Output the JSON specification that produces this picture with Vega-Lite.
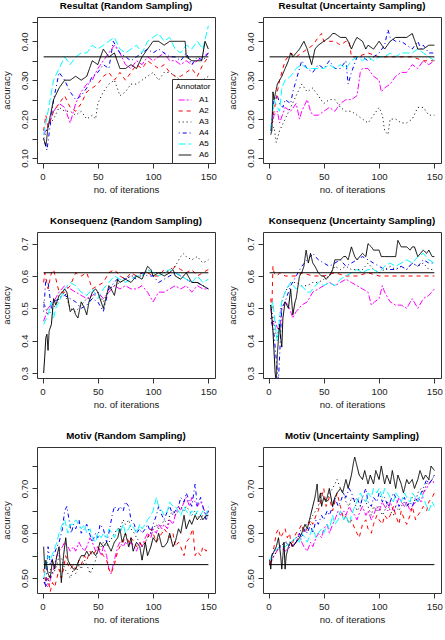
{
"$schema":"https://vega.github.io/schema/vega-lite/v6.json",
"padding":{"left":0,"top":0,"right":0,"bottom":0},
"background":"white",
"config":{
"font":"Liberation Sans",
"view":{"stroke":"#333","strokeWidth":1},
"axis":{"domain":false,"grid":false,"tickSize":5,"tickColor":"#333","labelFontSize":9.6,"titleFontSize":9.6,"titleFontWeight":"normal","labelColor":"#222","titleColor":"#222","labelFont":"Liberation Sans","titleFont":"Liberation Sans","labelOverlap":false,"labelFlush":false,"tickCount":20},
"axisX":{"labelPadding":3,"titlePadding":4,"labelOverlap":false},
"axisY":{"labelAngle":270,"labelAlign":"center","labelBaseline":"alphabetic","labelPadding":5,"titlePadding":8,"labelOverlap":false},
"title":{"fontSize":9.7,"fontWeight":"bold","font":"Liberation Sans","offset":6,"anchor":"middle","color":"black"},
"line":{"strokeWidth":1}
},
"datasets":{
"rr":[
{"s":"A1","x":1,"y":0.16},{"s":"A1","x":5,"y":0.18},{"s":"A1","x":10,"y":0.22},{"s":"A1","x":15,"y":0.24},{"s":"A1","x":20,"y":0.23},{"s":"A1","x":25,"y":0.19},{"s":"A1","x":30,"y":0.24},{"s":"A1","x":35,"y":0.27},{"s":"A1","x":40,"y":0.29},{"s":"A1","x":45,"y":0.30},{"s":"A1","x":50,"y":0.33},{"s":"A1","x":55,"y":0.35},{"s":"A1","x":60,"y":0.37},{"s":"A1","x":65,"y":0.39},{"s":"A1","x":70,"y":0.37},{"s":"A1","x":75,"y":0.34},{"s":"A1","x":80,"y":0.33},{"s":"A1","x":85,"y":0.35},{"s":"A1","x":90,"y":0.34},{"s":"A1","x":95,"y":0.36},{"s":"A1","x":100,"y":0.35},{"s":"A1","x":105,"y":0.36},{"s":"A1","x":110,"y":0.37},{"s":"A1","x":115,"y":0.35},{"s":"A1","x":120,"y":0.35},{"s":"A1","x":125,"y":0.34},{"s":"A1","x":130,"y":0.35},{"s":"A1","x":135,"y":0.34},{"s":"A1","x":140,"y":0.35},{"s":"A1","x":145,"y":0.36},{"s":"A1","x":150,"y":0.37},
{"s":"A2","x":1,"y":0.17},{"s":"A2","x":3,"y":0.21},{"s":"A2","x":5,"y":0.18},{"s":"A2","x":10,"y":0.22},{"s":"A2","x":15,"y":0.24},{"s":"A2","x":20,"y":0.26},{"s":"A2","x":25,"y":0.23},{"s":"A2","x":30,"y":0.22},{"s":"A2","x":35,"y":0.24},{"s":"A2","x":40,"y":0.27},{"s":"A2","x":45,"y":0.28},{"s":"A2","x":50,"y":0.29},{"s":"A2","x":55,"y":0.31},{"s":"A2","x":60,"y":0.32},{"s":"A2","x":65,"y":0.30},{"s":"A2","x":70,"y":0.32},{"s":"A2","x":75,"y":0.30},{"s":"A2","x":80,"y":0.32},{"s":"A2","x":85,"y":0.34},{"s":"A2","x":90,"y":0.33},{"s":"A2","x":95,"y":0.35},{"s":"A2","x":100,"y":0.34},{"s":"A2","x":105,"y":0.33},{"s":"A2","x":110,"y":0.34},{"s":"A2","x":115,"y":0.32},{"s":"A2","x":120,"y":0.31},{"s":"A2","x":125,"y":0.31},{"s":"A2","x":130,"y":0.32},{"s":"A2","x":135,"y":0.33},{"s":"A2","x":140,"y":0.31},{"s":"A2","x":145,"y":0.34},{"s":"A2","x":150,"y":0.36},
{"s":"A3","x":1,"y":0.15},{"s":"A3","x":5,"y":0.18},{"s":"A3","x":10,"y":0.20},{"s":"A3","x":15,"y":0.23},{"s":"A3","x":20,"y":0.22},{"s":"A3","x":25,"y":0.22},{"s":"A3","x":30,"y":0.21},{"s":"A3","x":35,"y":0.22},{"s":"A3","x":40,"y":0.20},{"s":"A3","x":45,"y":0.21},{"s":"A3","x":48,"y":0.20},{"s":"A3","x":50,"y":0.24},{"s":"A3","x":55,"y":0.27},{"s":"A3","x":60,"y":0.29},{"s":"A3","x":65,"y":0.30},{"s":"A3","x":70,"y":0.26},{"s":"A3","x":75,"y":0.27},{"s":"A3","x":80,"y":0.29},{"s":"A3","x":85,"y":0.29},{"s":"A3","x":90,"y":0.30},{"s":"A3","x":95,"y":0.31},{"s":"A3","x":100,"y":0.32},{"s":"A3","x":105,"y":0.30},{"s":"A3","x":110,"y":0.32},{"s":"A3","x":115,"y":0.32},{"s":"A3","x":120,"y":0.31},{"s":"A3","x":125,"y":0.30},{"s":"A3","x":130,"y":0.29},{"s":"A3","x":135,"y":0.29},{"s":"A3","x":140,"y":0.27},{"s":"A3","x":145,"y":0.30},{"s":"A3","x":150,"y":0.31},
{"s":"A4","x":1,"y":0.15},{"s":"A4","x":4,"y":0.12},{"s":"A4","x":10,"y":0.25},{"s":"A4","x":15,"y":0.32},{"s":"A4","x":20,"y":0.30},{"s":"A4","x":25,"y":0.27},{"s":"A4","x":30,"y":0.25},{"s":"A4","x":35,"y":0.26},{"s":"A4","x":40,"y":0.28},{"s":"A4","x":45,"y":0.31},{"s":"A4","x":50,"y":0.32},{"s":"A4","x":55,"y":0.34},{"s":"A4","x":60,"y":0.33},{"s":"A4","x":64,"y":0.40},{"s":"A4","x":70,"y":0.37},{"s":"A4","x":75,"y":0.36},{"s":"A4","x":80,"y":0.35},{"s":"A4","x":85,"y":0.36},{"s":"A4","x":90,"y":0.37},{"s":"A4","x":95,"y":0.38},{"s":"A4","x":100,"y":0.37},{"s":"A4","x":105,"y":0.38},{"s":"A4","x":110,"y":0.37},{"s":"A4","x":115,"y":0.36},{"s":"A4","x":120,"y":0.36},{"s":"A4","x":125,"y":0.35},{"s":"A4","x":130,"y":0.37},{"s":"A4","x":135,"y":0.34},{"s":"A4","x":140,"y":0.36},{"s":"A4","x":145,"y":0.35},{"s":"A4","x":150,"y":0.37},
{"s":"A5","x":1,"y":0.16},{"s":"A5","x":5,"y":0.22},{"s":"A5","x":10,"y":0.30},{"s":"A5","x":15,"y":0.33},{"s":"A5","x":20,"y":0.36},{"s":"A5","x":25,"y":0.34},{"s":"A5","x":30,"y":0.36},{"s":"A5","x":35,"y":0.37},{"s":"A5","x":40,"y":0.37},{"s":"A5","x":45,"y":0.39},{"s":"A5","x":50,"y":0.38},{"s":"A5","x":55,"y":0.39},{"s":"A5","x":60,"y":0.40},{"s":"A5","x":65,"y":0.41},{"s":"A5","x":70,"y":0.38},{"s":"A5","x":75,"y":0.37},{"s":"A5","x":80,"y":0.38},{"s":"A5","x":85,"y":0.39},{"s":"A5","x":90,"y":0.37},{"s":"A5","x":95,"y":0.40},{"s":"A5","x":100,"y":0.41},{"s":"A5","x":105,"y":0.42},{"s":"A5","x":110,"y":0.40},{"s":"A5","x":115,"y":0.41},{"s":"A5","x":120,"y":0.38},{"s":"A5","x":125,"y":0.37},{"s":"A5","x":130,"y":0.39},{"s":"A5","x":135,"y":0.38},{"s":"A5","x":140,"y":0.40},{"s":"A5","x":145,"y":0.38},{"s":"A5","x":150,"y":0.44},
{"s":"A6","x":1,"y":0.15},{"s":"A6","x":3,"y":0.13},{"s":"A6","x":5,"y":0.18},{"s":"A6","x":10,"y":0.25},{"s":"A6","x":15,"y":0.28},{"s":"A6","x":20,"y":0.30},{"s":"A6","x":25,"y":0.30},{"s":"A6","x":30,"y":0.31},{"s":"A6","x":35,"y":0.30},{"s":"A6","x":40,"y":0.31},{"s":"A6","x":45,"y":0.35},{"s":"A6","x":50,"y":0.34},{"s":"A6","x":55,"y":0.38},{"s":"A6","x":60,"y":0.36},{"s":"A6","x":65,"y":0.37},{"s":"A6","x":70,"y":0.33},{"s":"A6","x":75,"y":0.33},{"s":"A6","x":80,"y":0.34},{"s":"A6","x":85,"y":0.33},{"s":"A6","x":90,"y":0.36},{"s":"A6","x":95,"y":0.38},{"s":"A6","x":100,"y":0.40},{"s":"A6","x":105,"y":0.40},{"s":"A6","x":110,"y":0.39},{"s":"A6","x":115,"y":0.40},{"s":"A6","x":120,"y":0.40},{"s":"A6","x":125,"y":0.40},{"s":"A6","x":129,"y":0.40},{"s":"A6","x":130,"y":0.36},{"s":"A6","x":135,"y":0.35},{"s":"A6","x":140,"y":0.35},{"s":"A6","x":144,"y":0.35},{"s":"A6","x":147,"y":0.40},{"s":"A6","x":150,"y":0.38}
],
"ru":[
{"s":"A1","x":2,"y":0.17},{"s":"A1","x":5,"y":0.21},{"s":"A1","x":8,"y":0.22},{"s":"A1","x":10,"y":0.19},{"s":"A1","x":15,"y":0.23},{"s":"A1","x":20,"y":0.22},{"s":"A1","x":25,"y":0.24},{"s":"A1","x":28,"y":0.20},{"s":"A1","x":30,"y":0.22},{"s":"A1","x":35,"y":0.25},{"s":"A1","x":38,"y":0.22},{"s":"A1","x":40,"y":0.21},{"s":"A1","x":45,"y":0.21},{"s":"A1","x":50,"y":0.22},{"s":"A1","x":55,"y":0.23},{"s":"A1","x":60,"y":0.22},{"s":"A1","x":65,"y":0.24},{"s":"A1","x":70,"y":0.25},{"s":"A1","x":75,"y":0.25},{"s":"A1","x":80,"y":0.26},{"s":"A1","x":83,"y":0.32},{"s":"A1","x":85,"y":0.33},{"s":"A1","x":90,"y":0.33},{"s":"A1","x":95,"y":0.31},{"s":"A1","x":100,"y":0.30},{"s":"A1","x":102,"y":0.27},{"s":"A1","x":105,"y":0.28},{"s":"A1","x":110,"y":0.29},{"s":"A1","x":115,"y":0.31},{"s":"A1","x":120,"y":0.32},{"s":"A1","x":125,"y":0.32},{"s":"A1","x":130,"y":0.34},{"s":"A1","x":135,"y":0.33},{"s":"A1","x":140,"y":0.35},{"s":"A1","x":145,"y":0.34},{"s":"A1","x":150,"y":0.35},
{"s":"A2","x":2,"y":0.17},{"s":"A2","x":5,"y":0.22},{"s":"A2","x":8,"y":0.27},{"s":"A2","x":10,"y":0.30},{"s":"A2","x":15,"y":0.35},{"s":"A2","x":20,"y":0.37},{"s":"A2","x":25,"y":0.36},{"s":"A2","x":30,"y":0.37},{"s":"A2","x":35,"y":0.38},{"s":"A2","x":40,"y":0.39},{"s":"A2","x":45,"y":0.41},{"s":"A2","x":48,"y":0.42},{"s":"A2","x":50,"y":0.40},{"s":"A2","x":55,"y":0.40},{"s":"A2","x":60,"y":0.40},{"s":"A2","x":65,"y":0.39},{"s":"A2","x":70,"y":0.40},{"s":"A2","x":73,"y":0.40},{"s":"A2","x":75,"y":0.36},{"s":"A2","x":80,"y":0.36},{"s":"A2","x":90,"y":0.37},{"s":"A2","x":100,"y":0.36},{"s":"A2","x":110,"y":0.36},{"s":"A2","x":120,"y":0.36},{"s":"A2","x":130,"y":0.36},{"s":"A2","x":140,"y":0.35},{"s":"A2","x":150,"y":0.35},
{"s":"A3","x":2,"y":0.17},{"s":"A3","x":5,"y":0.18},{"s":"A3","x":7,"y":0.14},{"s":"A3","x":10,"y":0.17},{"s":"A3","x":15,"y":0.20},{"s":"A3","x":20,"y":0.23},{"s":"A3","x":25,"y":0.26},{"s":"A3","x":30,"y":0.29},{"s":"A3","x":35,"y":0.27},{"s":"A3","x":40,"y":0.28},{"s":"A3","x":45,"y":0.26},{"s":"A3","x":50,"y":0.24},{"s":"A3","x":55,"y":0.25},{"s":"A3","x":60,"y":0.25},{"s":"A3","x":65,"y":0.23},{"s":"A3","x":70,"y":0.22},{"s":"A3","x":75,"y":0.22},{"s":"A3","x":80,"y":0.21},{"s":"A3","x":85,"y":0.20},{"s":"A3","x":90,"y":0.19},{"s":"A3","x":95,"y":0.21},{"s":"A3","x":100,"y":0.23},{"s":"A3","x":103,"y":0.21},{"s":"A3","x":105,"y":0.17},{"s":"A3","x":108,"y":0.16},{"s":"A3","x":110,"y":0.20},{"s":"A3","x":115,"y":0.20},{"s":"A3","x":120,"y":0.19},{"s":"A3","x":125,"y":0.19},{"s":"A3","x":130,"y":0.20},{"s":"A3","x":135,"y":0.23},{"s":"A3","x":140,"y":0.23},{"s":"A3","x":145,"y":0.21},{"s":"A3","x":150,"y":0.21},
{"s":"A4","x":2,"y":0.17},{"s":"A4","x":5,"y":0.25},{"s":"A4","x":8,"y":0.26},{"s":"A4","x":10,"y":0.24},{"s":"A4","x":13,"y":0.23},{"s":"A4","x":15,"y":0.25},{"s":"A4","x":20,"y":0.24},{"s":"A4","x":22,"y":0.27},{"s":"A4","x":25,"y":0.30},{"s":"A4","x":28,"y":0.33},{"s":"A4","x":30,"y":0.35},{"s":"A4","x":35,"y":0.33},{"s":"A4","x":40,"y":0.32},{"s":"A4","x":45,"y":0.34},{"s":"A4","x":50,"y":0.33},{"s":"A4","x":55,"y":0.35},{"s":"A4","x":60,"y":0.33},{"s":"A4","x":65,"y":0.33},{"s":"A4","x":70,"y":0.35},{"s":"A4","x":72,"y":0.29},{"s":"A4","x":75,"y":0.32},{"s":"A4","x":80,"y":0.36},{"s":"A4","x":85,"y":0.36},{"s":"A4","x":90,"y":0.35},{"s":"A4","x":95,"y":0.36},{"s":"A4","x":100,"y":0.37},{"s":"A4","x":105,"y":0.39},{"s":"A4","x":108,"y":0.43},{"s":"A4","x":110,"y":0.41},{"s":"A4","x":115,"y":0.40},{"s":"A4","x":120,"y":0.40},{"s":"A4","x":125,"y":0.39},{"s":"A4","x":130,"y":0.38},{"s":"A4","x":135,"y":0.40},{"s":"A4","x":138,"y":0.38},{"s":"A4","x":140,"y":0.39},{"s":"A4","x":145,"y":0.37},{"s":"A4","x":150,"y":0.37},
{"s":"A5","x":2,"y":0.17},{"s":"A5","x":5,"y":0.25},{"s":"A5","x":8,"y":0.23},{"s":"A5","x":10,"y":0.22},{"s":"A5","x":12,"y":0.28},{"s":"A5","x":15,"y":0.30},{"s":"A5","x":20,"y":0.31},{"s":"A5","x":25,"y":0.33},{"s":"A5","x":30,"y":0.34},{"s":"A5","x":35,"y":0.33},{"s":"A5","x":40,"y":0.33},{"s":"A5","x":45,"y":0.33},{"s":"A5","x":50,"y":0.33},{"s":"A5","x":55,"y":0.34},{"s":"A5","x":60,"y":0.33},{"s":"A5","x":65,"y":0.34},{"s":"A5","x":70,"y":0.33},{"s":"A5","x":75,"y":0.35},{"s":"A5","x":80,"y":0.36},{"s":"A5","x":85,"y":0.35},{"s":"A5","x":90,"y":0.36},{"s":"A5","x":95,"y":0.35},{"s":"A5","x":100,"y":0.36},{"s":"A5","x":105,"y":0.36},{"s":"A5","x":110,"y":0.37},{"s":"A5","x":115,"y":0.36},{"s":"A5","x":120,"y":0.37},{"s":"A5","x":125,"y":0.37},{"s":"A5","x":130,"y":0.37},{"s":"A5","x":135,"y":0.38},{"s":"A5","x":140,"y":0.37},{"s":"A5","x":145,"y":0.36},{"s":"A5","x":150,"y":0.35},
{"s":"A6","x":2,"y":0.16},{"s":"A6","x":3,"y":0.17},{"s":"A6","x":4,"y":0.27},{"s":"A6","x":5,"y":0.25},{"s":"A6","x":8,"y":0.29},{"s":"A6","x":10,"y":0.30},{"s":"A6","x":12,"y":0.31},{"s":"A6","x":15,"y":0.33},{"s":"A6","x":18,"y":0.35},{"s":"A6","x":20,"y":0.37},{"s":"A6","x":22,"y":0.36},{"s":"A6","x":25,"y":0.37},{"s":"A6","x":28,"y":0.38},{"s":"A6","x":32,"y":0.40},{"s":"A6","x":35,"y":0.38},{"s":"A6","x":39,"y":0.34},{"s":"A6","x":42,"y":0.38},{"s":"A6","x":45,"y":0.39},{"s":"A6","x":50,"y":0.40},{"s":"A6","x":55,"y":0.41},{"s":"A6","x":58,"y":0.42},{"s":"A6","x":60,"y":0.42},{"s":"A6","x":65,"y":0.41},{"s":"A6","x":70,"y":0.41},{"s":"A6","x":72,"y":0.40},{"s":"A6","x":75,"y":0.38},{"s":"A6","x":78,"y":0.40},{"s":"A6","x":80,"y":0.41},{"s":"A6","x":85,"y":0.40},{"s":"A6","x":88,"y":0.38},{"s":"A6","x":90,"y":0.39},{"s":"A6","x":95,"y":0.38},{"s":"A6","x":100,"y":0.40},{"s":"A6","x":105,"y":0.38},{"s":"A6","x":110,"y":0.40},{"s":"A6","x":115,"y":0.41},{"s":"A6","x":120,"y":0.41},{"s":"A6","x":125,"y":0.41},{"s":"A6","x":130,"y":0.42},{"s":"A6","x":135,"y":0.38},{"s":"A6","x":140,"y":0.38},{"s":"A6","x":145,"y":0.39},{"s":"A6","x":150,"y":0.39}
],
"kr":[
{"s":"A1","x":1,"y":0.46},{"s":"A1","x":5,"y":0.50},{"s":"A1","x":10,"y":0.52},{"s":"A1","x":15,"y":0.55},{"s":"A1","x":20,"y":0.57},{"s":"A1","x":25,"y":0.56},{"s":"A1","x":30,"y":0.55},{"s":"A1","x":35,"y":0.54},{"s":"A1","x":40,"y":0.53},{"s":"A1","x":45,"y":0.54},{"s":"A1","x":50,"y":0.55},{"s":"A1","x":55,"y":0.53},{"s":"A1","x":60,"y":0.55},{"s":"A1","x":65,"y":0.57},{"s":"A1","x":70,"y":0.56},{"s":"A1","x":75,"y":0.57},{"s":"A1","x":80,"y":0.56},{"s":"A1","x":85,"y":0.56},{"s":"A1","x":90,"y":0.57},{"s":"A1","x":95,"y":0.55},{"s":"A1","x":100,"y":0.52},{"s":"A1","x":105,"y":0.55},{"s":"A1","x":110,"y":0.55},{"s":"A1","x":115,"y":0.56},{"s":"A1","x":120,"y":0.57},{"s":"A1","x":125,"y":0.56},{"s":"A1","x":130,"y":0.57},{"s":"A1","x":135,"y":0.55},{"s":"A1","x":140,"y":0.57},{"s":"A1","x":145,"y":0.56},{"s":"A1","x":150,"y":0.56},
{"s":"A2","x":1,"y":0.58},{"s":"A2","x":2,"y":0.61},{"s":"A2","x":5,"y":0.56},{"s":"A2","x":8,"y":0.61},{"s":"A2","x":10,"y":0.62},{"s":"A2","x":15,"y":0.55},{"s":"A2","x":20,"y":0.55},{"s":"A2","x":25,"y":0.57},{"s":"A2","x":30,"y":0.61},{"s":"A2","x":35,"y":0.60},{"s":"A2","x":40,"y":0.61},{"s":"A2","x":45,"y":0.56},{"s":"A2","x":50,"y":0.57},{"s":"A2","x":55,"y":0.58},{"s":"A2","x":60,"y":0.61},{"s":"A2","x":65,"y":0.62},{"s":"A2","x":70,"y":0.60},{"s":"A2","x":75,"y":0.59},{"s":"A2","x":80,"y":0.61},{"s":"A2","x":85,"y":0.60},{"s":"A2","x":90,"y":0.61},{"s":"A2","x":95,"y":0.61},{"s":"A2","x":100,"y":0.60},{"s":"A2","x":105,"y":0.60},{"s":"A2","x":110,"y":0.62},{"s":"A2","x":115,"y":0.61},{"s":"A2","x":120,"y":0.63},{"s":"A2","x":125,"y":0.62},{"s":"A2","x":130,"y":0.61},{"s":"A2","x":135,"y":0.62},{"s":"A2","x":140,"y":0.60},{"s":"A2","x":145,"y":0.61},{"s":"A2","x":150,"y":0.62},
{"s":"A3","x":1,"y":0.52},{"s":"A3","x":5,"y":0.48},{"s":"A3","x":10,"y":0.50},{"s":"A3","x":15,"y":0.53},{"s":"A3","x":20,"y":0.55},{"s":"A3","x":25,"y":0.50},{"s":"A3","x":30,"y":0.49},{"s":"A3","x":35,"y":0.51},{"s":"A3","x":40,"y":0.53},{"s":"A3","x":45,"y":0.53},{"s":"A3","x":50,"y":0.55},{"s":"A3","x":55,"y":0.52},{"s":"A3","x":60,"y":0.56},{"s":"A3","x":65,"y":0.57},{"s":"A3","x":70,"y":0.58},{"s":"A3","x":75,"y":0.59},{"s":"A3","x":80,"y":0.60},{"s":"A3","x":85,"y":0.60},{"s":"A3","x":90,"y":0.60},{"s":"A3","x":95,"y":0.62},{"s":"A3","x":100,"y":0.61},{"s":"A3","x":105,"y":0.61},{"s":"A3","x":110,"y":0.61},{"s":"A3","x":115,"y":0.62},{"s":"A3","x":120,"y":0.63},{"s":"A3","x":125,"y":0.66},{"s":"A3","x":128,"y":0.67},{"s":"A3","x":130,"y":0.66},{"s":"A3","x":135,"y":0.65},{"s":"A3","x":140,"y":0.66},{"s":"A3","x":145,"y":0.64},{"s":"A3","x":150,"y":0.65},
{"s":"A4","x":1,"y":0.49},{"s":"A4","x":3,"y":0.59},{"s":"A4","x":5,"y":0.58},{"s":"A4","x":8,"y":0.50},{"s":"A4","x":10,"y":0.52},{"s":"A4","x":15,"y":0.53},{"s":"A4","x":20,"y":0.54},{"s":"A4","x":25,"y":0.53},{"s":"A4","x":30,"y":0.52},{"s":"A4","x":35,"y":0.50},{"s":"A4","x":40,"y":0.51},{"s":"A4","x":45,"y":0.53},{"s":"A4","x":50,"y":0.52},{"s":"A4","x":55,"y":0.49},{"s":"A4","x":60,"y":0.56},{"s":"A4","x":65,"y":0.58},{"s":"A4","x":70,"y":0.60},{"s":"A4","x":75,"y":0.59},{"s":"A4","x":80,"y":0.60},{"s":"A4","x":85,"y":0.59},{"s":"A4","x":90,"y":0.61},{"s":"A4","x":95,"y":0.60},{"s":"A4","x":100,"y":0.60},{"s":"A4","x":105,"y":0.58},{"s":"A4","x":110,"y":0.59},{"s":"A4","x":115,"y":0.60},{"s":"A4","x":120,"y":0.61},{"s":"A4","x":125,"y":0.60},{"s":"A4","x":130,"y":0.59},{"s":"A4","x":135,"y":0.58},{"s":"A4","x":140,"y":0.58},{"s":"A4","x":145,"y":0.57},{"s":"A4","x":150,"y":0.56},
{"s":"A5","x":1,"y":0.45},{"s":"A5","x":5,"y":0.48},{"s":"A5","x":8,"y":0.52},{"s":"A5","x":10,"y":0.47},{"s":"A5","x":12,"y":0.50},{"s":"A5","x":15,"y":0.52},{"s":"A5","x":20,"y":0.56},{"s":"A5","x":25,"y":0.58},{"s":"A5","x":30,"y":0.57},{"s":"A5","x":35,"y":0.55},{"s":"A5","x":40,"y":0.54},{"s":"A5","x":45,"y":0.56},{"s":"A5","x":50,"y":0.53},{"s":"A5","x":55,"y":0.56},{"s":"A5","x":60,"y":0.58},{"s":"A5","x":65,"y":0.60},{"s":"A5","x":70,"y":0.59},{"s":"A5","x":75,"y":0.58},{"s":"A5","x":80,"y":0.59},{"s":"A5","x":85,"y":0.60},{"s":"A5","x":90,"y":0.60},{"s":"A5","x":95,"y":0.62},{"s":"A5","x":100,"y":0.61},{"s":"A5","x":105,"y":0.60},{"s":"A5","x":110,"y":0.61},{"s":"A5","x":115,"y":0.62},{"s":"A5","x":120,"y":0.61},{"s":"A5","x":125,"y":0.60},{"s":"A5","x":130,"y":0.59},{"s":"A5","x":135,"y":0.58},{"s":"A5","x":140,"y":0.60},{"s":"A5","x":145,"y":0.58},{"s":"A5","x":150,"y":0.59},
{"s":"A6","x":1,"y":0.30},{"s":"A6","x":2,"y":0.35},{"s":"A6","x":3,"y":0.41},{"s":"A6","x":4,"y":0.42},{"s":"A6","x":5,"y":0.37},{"s":"A6","x":6,"y":0.43},{"s":"A6","x":8,"y":0.45},{"s":"A6","x":10,"y":0.53},{"s":"A6","x":12,"y":0.51},{"s":"A6","x":15,"y":0.54},{"s":"A6","x":18,"y":0.55},{"s":"A6","x":20,"y":0.56},{"s":"A6","x":22,"y":0.55},{"s":"A6","x":25,"y":0.49},{"s":"A6","x":28,"y":0.50},{"s":"A6","x":30,"y":0.48},{"s":"A6","x":32,"y":0.47},{"s":"A6","x":35,"y":0.52},{"s":"A6","x":38,"y":0.50},{"s":"A6","x":40,"y":0.48},{"s":"A6","x":42,"y":0.52},{"s":"A6","x":45,"y":0.55},{"s":"A6","x":48,"y":0.56},{"s":"A6","x":50,"y":0.55},{"s":"A6","x":52,"y":0.53},{"s":"A6","x":55,"y":0.50},{"s":"A6","x":58,"y":0.54},{"s":"A6","x":60,"y":0.57},{"s":"A6","x":62,"y":0.56},{"s":"A6","x":65,"y":0.54},{"s":"A6","x":68,"y":0.59},{"s":"A6","x":70,"y":0.58},{"s":"A6","x":75,"y":0.59},{"s":"A6","x":80,"y":0.58},{"s":"A6","x":85,"y":0.60},{"s":"A6","x":90,"y":0.59},{"s":"A6","x":95,"y":0.63},{"s":"A6","x":98,"y":0.62},{"s":"A6","x":100,"y":0.60},{"s":"A6","x":105,"y":0.61},{"s":"A6","x":110,"y":0.60},{"s":"A6","x":115,"y":0.61},{"s":"A6","x":118,"y":0.62},{"s":"A6","x":120,"y":0.60},{"s":"A6","x":125,"y":0.59},{"s":"A6","x":130,"y":0.61},{"s":"A6","x":135,"y":0.58},{"s":"A6","x":140,"y":0.58},{"s":"A6","x":145,"y":0.57},{"s":"A6","x":150,"y":0.56}
],
"ku":[
{"s":"A1","x":2,"y":0.50},{"s":"A1","x":4,"y":0.45},{"s":"A1","x":6,"y":0.46},{"s":"A1","x":8,"y":0.44},{"s":"A1","x":10,"y":0.43},{"s":"A1","x":12,"y":0.50},{"s":"A1","x":15,"y":0.52},{"s":"A1","x":18,"y":0.51},{"s":"A1","x":20,"y":0.49},{"s":"A1","x":22,"y":0.47},{"s":"A1","x":25,"y":0.49},{"s":"A1","x":30,"y":0.51},{"s":"A1","x":35,"y":0.52},{"s":"A1","x":40,"y":0.55},{"s":"A1","x":45,"y":0.56},{"s":"A1","x":50,"y":0.57},{"s":"A1","x":55,"y":0.58},{"s":"A1","x":60,"y":0.57},{"s":"A1","x":65,"y":0.58},{"s":"A1","x":70,"y":0.59},{"s":"A1","x":75,"y":0.58},{"s":"A1","x":80,"y":0.57},{"s":"A1","x":85,"y":0.56},{"s":"A1","x":90,"y":0.55},{"s":"A1","x":93,"y":0.51},{"s":"A1","x":96,"y":0.52},{"s":"A1","x":100,"y":0.53},{"s":"A1","x":103,"y":0.57},{"s":"A1","x":105,"y":0.55},{"s":"A1","x":110,"y":0.52},{"s":"A1","x":115,"y":0.51},{"s":"A1","x":120,"y":0.51},{"s":"A1","x":125,"y":0.50},{"s":"A1","x":130,"y":0.53},{"s":"A1","x":135,"y":0.50},{"s":"A1","x":140,"y":0.53},{"s":"A1","x":145,"y":0.54},{"s":"A1","x":150,"y":0.56},
{"s":"A2","x":2,"y":0.53},{"s":"A2","x":3,"y":0.50},{"s":"A2","x":4,"y":0.63},{"s":"A2","x":5,"y":0.61},{"s":"A2","x":8,"y":0.60},{"s":"A2","x":10,"y":0.61},{"s":"A2","x":15,"y":0.60},{"s":"A2","x":20,"y":0.60},{"s":"A2","x":25,"y":0.60},{"s":"A2","x":30,"y":0.61},{"s":"A2","x":40,"y":0.60},{"s":"A2","x":50,"y":0.60},{"s":"A2","x":60,"y":0.61},{"s":"A2","x":70,"y":0.60},{"s":"A2","x":80,"y":0.60},{"s":"A2","x":90,"y":0.61},{"s":"A2","x":100,"y":0.60},{"s":"A2","x":110,"y":0.60},{"s":"A2","x":120,"y":0.60},{"s":"A2","x":130,"y":0.60},{"s":"A2","x":140,"y":0.60},{"s":"A2","x":150,"y":0.60},
{"s":"A3","x":2,"y":0.51},{"s":"A3","x":5,"y":0.45},{"s":"A3","x":8,"y":0.40},{"s":"A3","x":10,"y":0.47},{"s":"A3","x":12,"y":0.52},{"s":"A3","x":15,"y":0.55},{"s":"A3","x":20,"y":0.58},{"s":"A3","x":25,"y":0.58},{"s":"A3","x":30,"y":0.57},{"s":"A3","x":35,"y":0.57},{"s":"A3","x":40,"y":0.58},{"s":"A3","x":45,"y":0.58},{"s":"A3","x":50,"y":0.59},{"s":"A3","x":55,"y":0.60},{"s":"A3","x":60,"y":0.63},{"s":"A3","x":65,"y":0.62},{"s":"A3","x":70,"y":0.63},{"s":"A3","x":75,"y":0.62},{"s":"A3","x":80,"y":0.62},{"s":"A3","x":85,"y":0.62},{"s":"A3","x":90,"y":0.64},{"s":"A3","x":95,"y":0.62},{"s":"A3","x":100,"y":0.61},{"s":"A3","x":105,"y":0.62},{"s":"A3","x":110,"y":0.63},{"s":"A3","x":115,"y":0.62},{"s":"A3","x":120,"y":0.63},{"s":"A3","x":125,"y":0.62},{"s":"A3","x":130,"y":0.64},{"s":"A3","x":135,"y":0.63},{"s":"A3","x":140,"y":0.64},{"s":"A3","x":145,"y":0.62},{"s":"A3","x":150,"y":0.62},
{"s":"A4","x":2,"y":0.47},{"s":"A4","x":5,"y":0.42},{"s":"A4","x":8,"y":0.30},{"s":"A4","x":9,"y":0.28},{"s":"A4","x":10,"y":0.35},{"s":"A4","x":12,"y":0.50},{"s":"A4","x":15,"y":0.52},{"s":"A4","x":18,"y":0.55},{"s":"A4","x":20,"y":0.57},{"s":"A4","x":25,"y":0.60},{"s":"A4","x":30,"y":0.63},{"s":"A4","x":35,"y":0.65},{"s":"A4","x":38,"y":0.66},{"s":"A4","x":40,"y":0.67},{"s":"A4","x":45,"y":0.65},{"s":"A4","x":50,"y":0.64},{"s":"A4","x":55,"y":0.63},{"s":"A4","x":60,"y":0.64},{"s":"A4","x":65,"y":0.65},{"s":"A4","x":70,"y":0.63},{"s":"A4","x":75,"y":0.64},{"s":"A4","x":80,"y":0.65},{"s":"A4","x":85,"y":0.66},{"s":"A4","x":90,"y":0.65},{"s":"A4","x":95,"y":0.64},{"s":"A4","x":100,"y":0.63},{"s":"A4","x":105,"y":0.62},{"s":"A4","x":110,"y":0.62},{"s":"A4","x":115,"y":0.62},{"s":"A4","x":120,"y":0.63},{"s":"A4","x":125,"y":0.62},{"s":"A4","x":130,"y":0.64},{"s":"A4","x":135,"y":0.63},{"s":"A4","x":140,"y":0.65},{"s":"A4","x":145,"y":0.64},{"s":"A4","x":150,"y":0.64},
{"s":"A5","x":2,"y":0.50},{"s":"A5","x":4,"y":0.52},{"s":"A5","x":6,"y":0.45},{"s":"A5","x":8,"y":0.40},{"s":"A5","x":10,"y":0.47},{"s":"A5","x":12,"y":0.52},{"s":"A5","x":15,"y":0.55},{"s":"A5","x":18,"y":0.57},{"s":"A5","x":20,"y":0.58},{"s":"A5","x":25,"y":0.56},{"s":"A5","x":30,"y":0.57},{"s":"A5","x":35,"y":0.55},{"s":"A5","x":38,"y":0.55},{"s":"A5","x":40,"y":0.56},{"s":"A5","x":45,"y":0.58},{"s":"A5","x":50,"y":0.57},{"s":"A5","x":55,"y":0.58},{"s":"A5","x":60,"y":0.57},{"s":"A5","x":65,"y":0.59},{"s":"A5","x":70,"y":0.60},{"s":"A5","x":75,"y":0.61},{"s":"A5","x":80,"y":0.62},{"s":"A5","x":85,"y":0.61},{"s":"A5","x":90,"y":0.62},{"s":"A5","x":95,"y":0.62},{"s":"A5","x":100,"y":0.61},{"s":"A5","x":105,"y":0.63},{"s":"A5","x":110,"y":0.64},{"s":"A5","x":115,"y":0.63},{"s":"A5","x":120,"y":0.64},{"s":"A5","x":125,"y":0.65},{"s":"A5","x":130,"y":0.64},{"s":"A5","x":135,"y":0.66},{"s":"A5","x":140,"y":0.67},{"s":"A5","x":145,"y":0.65},{"s":"A5","x":150,"y":0.64},
{"s":"A6","x":2,"y":0.51},{"s":"A6","x":4,"y":0.43},{"s":"A6","x":6,"y":0.30},{"s":"A6","x":7,"y":0.27},{"s":"A6","x":8,"y":0.36},{"s":"A6","x":10,"y":0.45},{"s":"A6","x":11,"y":0.41},{"s":"A6","x":12,"y":0.38},{"s":"A6","x":13,"y":0.47},{"s":"A6","x":15,"y":0.52},{"s":"A6","x":18,"y":0.50},{"s":"A6","x":20,"y":0.56},{"s":"A6","x":22,"y":0.48},{"s":"A6","x":24,"y":0.52},{"s":"A6","x":25,"y":0.53},{"s":"A6","x":28,"y":0.60},{"s":"A6","x":30,"y":0.61},{"s":"A6","x":32,"y":0.63},{"s":"A6","x":34,"y":0.68},{"s":"A6","x":36,"y":0.64},{"s":"A6","x":38,"y":0.67},{"s":"A6","x":40,"y":0.64},{"s":"A6","x":42,"y":0.63},{"s":"A6","x":45,"y":0.61},{"s":"A6","x":48,"y":0.60},{"s":"A6","x":50,"y":0.60},{"s":"A6","x":52,"y":0.59},{"s":"A6","x":55,"y":0.60},{"s":"A6","x":58,"y":0.62},{"s":"A6","x":60,"y":0.65},{"s":"A6","x":62,"y":0.65},{"s":"A6","x":65,"y":0.65},{"s":"A6","x":68,"y":0.66},{"s":"A6","x":70,"y":0.66},{"s":"A6","x":72,"y":0.65},{"s":"A6","x":75,"y":0.69},{"s":"A6","x":78,"y":0.66},{"s":"A6","x":80,"y":0.65},{"s":"A6","x":85,"y":0.67},{"s":"A6","x":88,"y":0.66},{"s":"A6","x":90,"y":0.70},{"s":"A6","x":93,"y":0.69},{"s":"A6","x":95,"y":0.68},{"s":"A6","x":100,"y":0.68},{"s":"A6","x":102,"y":0.66},{"s":"A6","x":105,"y":0.66},{"s":"A6","x":110,"y":0.66},{"s":"A6","x":115,"y":0.66},{"s":"A6","x":117,"y":0.71},{"s":"A6","x":120,"y":0.69},{"s":"A6","x":125,"y":0.69},{"s":"A6","x":128,"y":0.68},{"s":"A6","x":130,"y":0.69},{"s":"A6","x":132,"y":0.69},{"s":"A6","x":135,"y":0.66},{"s":"A6","x":140,"y":0.68},{"s":"A6","x":143,"y":0.67},{"s":"A6","x":145,"y":0.68},{"s":"A6","x":148,"y":0.66},{"s":"A6","x":150,"y":0.66}
],
"mr":[
{"s":"A1","x":1,"y":0.49},{"s":"A1","x":5,"y":0.48},{"s":"A1","x":10,"y":0.52},{"s":"A1","x":13,"y":0.55},{"s":"A1","x":15,"y":0.56},{"s":"A1","x":18,"y":0.57},{"s":"A1","x":20,"y":0.58},{"s":"A1","x":23,"y":0.57},{"s":"A1","x":25,"y":0.56},{"s":"A1","x":28,"y":0.57},{"s":"A1","x":30,"y":0.56},{"s":"A1","x":33,"y":0.58},{"s":"A1","x":35,"y":0.57},{"s":"A1","x":38,"y":0.56},{"s":"A1","x":40,"y":0.57},{"s":"A1","x":43,"y":0.59},{"s":"A1","x":45,"y":0.58},{"s":"A1","x":48,"y":0.56},{"s":"A1","x":50,"y":0.57},{"s":"A1","x":53,"y":0.55},{"s":"A1","x":55,"y":0.57},{"s":"A1","x":58,"y":0.55},{"s":"A1","x":60,"y":0.52},{"s":"A1","x":62,"y":0.51},{"s":"A1","x":65,"y":0.54},{"s":"A1","x":68,"y":0.57},{"s":"A1","x":70,"y":0.58},{"s":"A1","x":73,"y":0.57},{"s":"A1","x":75,"y":0.58},{"s":"A1","x":78,"y":0.57},{"s":"A1","x":80,"y":0.58},{"s":"A1","x":83,"y":0.57},{"s":"A1","x":85,"y":0.56},{"s":"A1","x":88,"y":0.58},{"s":"A1","x":90,"y":0.57},{"s":"A1","x":93,"y":0.59},{"s":"A1","x":95,"y":0.60},{"s":"A1","x":98,"y":0.59},{"s":"A1","x":100,"y":0.61},{"s":"A1","x":103,"y":0.60},{"s":"A1","x":105,"y":0.62},{"s":"A1","x":108,"y":0.61},{"s":"A1","x":110,"y":0.62},{"s":"A1","x":113,"y":0.61},{"s":"A1","x":115,"y":0.63},{"s":"A1","x":118,"y":0.62},{"s":"A1","x":120,"y":0.64},{"s":"A1","x":123,"y":0.66},{"s":"A1","x":125,"y":0.65},{"s":"A1","x":128,"y":0.67},{"s":"A1","x":130,"y":0.68},{"s":"A1","x":133,"y":0.66},{"s":"A1","x":135,"y":0.68},{"s":"A1","x":138,"y":0.67},{"s":"A1","x":140,"y":0.66},{"s":"A1","x":143,"y":0.67},{"s":"A1","x":145,"y":0.66},{"s":"A1","x":148,"y":0.64},{"s":"A1","x":150,"y":0.65},
{"s":"A2","x":1,"y":0.52},{"s":"A2","x":3,"y":0.49},{"s":"A2","x":5,"y":0.50},{"s":"A2","x":7,"y":0.47},{"s":"A2","x":9,"y":0.49},{"s":"A2","x":11,"y":0.48},{"s":"A2","x":13,"y":0.50},{"s":"A2","x":15,"y":0.52},{"s":"A2","x":17,"y":0.50},{"s":"A2","x":19,"y":0.52},{"s":"A2","x":21,"y":0.55},{"s":"A2","x":23,"y":0.53},{"s":"A2","x":25,"y":0.52},{"s":"A2","x":28,"y":0.53},{"s":"A2","x":30,"y":0.52},{"s":"A2","x":33,"y":0.54},{"s":"A2","x":35,"y":0.53},{"s":"A2","x":38,"y":0.55},{"s":"A2","x":40,"y":0.54},{"s":"A2","x":43,"y":0.56},{"s":"A2","x":45,"y":0.55},{"s":"A2","x":48,"y":0.56},{"s":"A2","x":50,"y":0.57},{"s":"A2","x":53,"y":0.56},{"s":"A2","x":55,"y":0.55},{"s":"A2","x":58,"y":0.54},{"s":"A2","x":60,"y":0.52},{"s":"A2","x":62,"y":0.51},{"s":"A2","x":65,"y":0.53},{"s":"A2","x":68,"y":0.56},{"s":"A2","x":70,"y":0.57},{"s":"A2","x":73,"y":0.58},{"s":"A2","x":75,"y":0.60},{"s":"A2","x":78,"y":0.58},{"s":"A2","x":80,"y":0.59},{"s":"A2","x":83,"y":0.58},{"s":"A2","x":85,"y":0.57},{"s":"A2","x":88,"y":0.58},{"s":"A2","x":90,"y":0.57},{"s":"A2","x":93,"y":0.58},{"s":"A2","x":95,"y":0.59},{"s":"A2","x":98,"y":0.61},{"s":"A2","x":100,"y":0.60},{"s":"A2","x":103,"y":0.58},{"s":"A2","x":105,"y":0.59},{"s":"A2","x":108,"y":0.60},{"s":"A2","x":110,"y":0.61},{"s":"A2","x":113,"y":0.60},{"s":"A2","x":115,"y":0.59},{"s":"A2","x":118,"y":0.60},{"s":"A2","x":120,"y":0.57},{"s":"A2","x":123,"y":0.58},{"s":"A2","x":125,"y":0.57},{"s":"A2","x":128,"y":0.55},{"s":"A2","x":130,"y":0.58},{"s":"A2","x":133,"y":0.59},{"s":"A2","x":136,"y":0.61},{"s":"A2","x":138,"y":0.55},{"s":"A2","x":140,"y":0.56},{"s":"A2","x":143,"y":0.55},{"s":"A2","x":145,"y":0.57},{"s":"A2","x":148,"y":0.56},{"s":"A2","x":150,"y":0.57},
{"s":"A3","x":1,"y":0.50},{"s":"A3","x":3,"y":0.48},{"s":"A3","x":5,"y":0.49},{"s":"A3","x":7,"y":0.52},{"s":"A3","x":10,"y":0.51},{"s":"A3","x":13,"y":0.53},{"s":"A3","x":15,"y":0.55},{"s":"A3","x":18,"y":0.54},{"s":"A3","x":20,"y":0.52},{"s":"A3","x":23,"y":0.51},{"s":"A3","x":25,"y":0.50},{"s":"A3","x":28,"y":0.52},{"s":"A3","x":30,"y":0.51},{"s":"A3","x":33,"y":0.53},{"s":"A3","x":35,"y":0.52},{"s":"A3","x":38,"y":0.54},{"s":"A3","x":40,"y":0.53},{"s":"A3","x":43,"y":0.51},{"s":"A3","x":45,"y":0.52},{"s":"A3","x":48,"y":0.54},{"s":"A3","x":50,"y":0.56},{"s":"A3","x":53,"y":0.57},{"s":"A3","x":55,"y":0.58},{"s":"A3","x":58,"y":0.57},{"s":"A3","x":60,"y":0.58},{"s":"A3","x":63,"y":0.59},{"s":"A3","x":65,"y":0.60},{"s":"A3","x":68,"y":0.61},{"s":"A3","x":70,"y":0.61},{"s":"A3","x":73,"y":0.63},{"s":"A3","x":75,"y":0.62},{"s":"A3","x":78,"y":0.63},{"s":"A3","x":80,"y":0.61},{"s":"A3","x":83,"y":0.60},{"s":"A3","x":85,"y":0.59},{"s":"A3","x":88,"y":0.58},{"s":"A3","x":90,"y":0.57},{"s":"A3","x":93,"y":0.58},{"s":"A3","x":95,"y":0.59},{"s":"A3","x":98,"y":0.60},{"s":"A3","x":100,"y":0.61},{"s":"A3","x":103,"y":0.62},{"s":"A3","x":105,"y":0.61},{"s":"A3","x":108,"y":0.62},{"s":"A3","x":110,"y":0.63},{"s":"A3","x":113,"y":0.62},{"s":"A3","x":115,"y":0.64},{"s":"A3","x":118,"y":0.65},{"s":"A3","x":120,"y":0.64},{"s":"A3","x":123,"y":0.65},{"s":"A3","x":125,"y":0.66},{"s":"A3","x":128,"y":0.65},{"s":"A3","x":130,"y":0.66},{"s":"A3","x":133,"y":0.65},{"s":"A3","x":135,"y":0.64},{"s":"A3","x":138,"y":0.65},{"s":"A3","x":140,"y":0.64},{"s":"A3","x":143,"y":0.63},{"s":"A3","x":145,"y":0.64},{"s":"A3","x":148,"y":0.63},{"s":"A3","x":150,"y":0.64},
{"s":"A4","x":1,"y":0.50},{"s":"A4","x":3,"y":0.48},{"s":"A4","x":5,"y":0.57},{"s":"A4","x":7,"y":0.53},{"s":"A4","x":10,"y":0.55},{"s":"A4","x":13,"y":0.57},{"s":"A4","x":15,"y":0.58},{"s":"A4","x":18,"y":0.61},{"s":"A4","x":20,"y":0.65},{"s":"A4","x":22,"y":0.66},{"s":"A4","x":24,"y":0.63},{"s":"A4","x":26,"y":0.60},{"s":"A4","x":28,"y":0.62},{"s":"A4","x":30,"y":0.61},{"s":"A4","x":33,"y":0.63},{"s":"A4","x":35,"y":0.60},{"s":"A4","x":38,"y":0.61},{"s":"A4","x":40,"y":0.62},{"s":"A4","x":45,"y":0.58},{"s":"A4","x":48,"y":0.60},{"s":"A4","x":50,"y":0.59},{"s":"A4","x":52,"y":0.62},{"s":"A4","x":55,"y":0.61},{"s":"A4","x":58,"y":0.58},{"s":"A4","x":60,"y":0.60},{"s":"A4","x":63,"y":0.64},{"s":"A4","x":65,"y":0.66},{"s":"A4","x":68,"y":0.65},{"s":"A4","x":70,"y":0.66},{"s":"A4","x":73,"y":0.65},{"s":"A4","x":75,"y":0.67},{"s":"A4","x":78,"y":0.66},{"s":"A4","x":80,"y":0.63},{"s":"A4","x":83,"y":0.62},{"s":"A4","x":85,"y":0.60},{"s":"A4","x":88,"y":0.61},{"s":"A4","x":90,"y":0.60},{"s":"A4","x":93,"y":0.61},{"s":"A4","x":95,"y":0.62},{"s":"A4","x":98,"y":0.60},{"s":"A4","x":100,"y":0.62},{"s":"A4","x":103,"y":0.64},{"s":"A4","x":105,"y":0.66},{"s":"A4","x":108,"y":0.64},{"s":"A4","x":110,"y":0.63},{"s":"A4","x":113,"y":0.65},{"s":"A4","x":115,"y":0.66},{"s":"A4","x":118,"y":0.64},{"s":"A4","x":120,"y":0.65},{"s":"A4","x":123,"y":0.66},{"s":"A4","x":125,"y":0.68},{"s":"A4","x":128,"y":0.67},{"s":"A4","x":130,"y":0.69},{"s":"A4","x":133,"y":0.67},{"s":"A4","x":135,"y":0.66},{"s":"A4","x":138,"y":0.71},{"s":"A4","x":140,"y":0.66},{"s":"A4","x":143,"y":0.68},{"s":"A4","x":145,"y":0.66},{"s":"A4","x":148,"y":0.63},{"s":"A4","x":150,"y":0.65},
{"s":"A5","x":1,"y":0.50},{"s":"A5","x":3,"y":0.52},{"s":"A5","x":5,"y":0.55},{"s":"A5","x":7,"y":0.54},{"s":"A5","x":10,"y":0.56},{"s":"A5","x":13,"y":0.58},{"s":"A5","x":15,"y":0.60},{"s":"A5","x":18,"y":0.62},{"s":"A5","x":20,"y":0.63},{"s":"A5","x":23,"y":0.60},{"s":"A5","x":25,"y":0.62},{"s":"A5","x":28,"y":0.62},{"s":"A5","x":30,"y":0.63},{"s":"A5","x":33,"y":0.62},{"s":"A5","x":35,"y":0.61},{"s":"A5","x":38,"y":0.62},{"s":"A5","x":40,"y":0.60},{"s":"A5","x":43,"y":0.61},{"s":"A5","x":45,"y":0.59},{"s":"A5","x":48,"y":0.58},{"s":"A5","x":50,"y":0.60},{"s":"A5","x":53,"y":0.59},{"s":"A5","x":55,"y":0.60},{"s":"A5","x":58,"y":0.59},{"s":"A5","x":60,"y":0.61},{"s":"A5","x":63,"y":0.60},{"s":"A5","x":65,"y":0.59},{"s":"A5","x":68,"y":0.61},{"s":"A5","x":70,"y":0.60},{"s":"A5","x":73,"y":0.62},{"s":"A5","x":75,"y":0.60},{"s":"A5","x":78,"y":0.61},{"s":"A5","x":80,"y":0.62},{"s":"A5","x":83,"y":0.61},{"s":"A5","x":85,"y":0.60},{"s":"A5","x":88,"y":0.62},{"s":"A5","x":90,"y":0.61},{"s":"A5","x":93,"y":0.62},{"s":"A5","x":95,"y":0.63},{"s":"A5","x":98,"y":0.64},{"s":"A5","x":100,"y":0.65},{"s":"A5","x":103,"y":0.68},{"s":"A5","x":105,"y":0.66},{"s":"A5","x":108,"y":0.65},{"s":"A5","x":110,"y":0.64},{"s":"A5","x":113,"y":0.65},{"s":"A5","x":115,"y":0.67},{"s":"A5","x":118,"y":0.66},{"s":"A5","x":120,"y":0.66},{"s":"A5","x":123,"y":0.65},{"s":"A5","x":125,"y":0.64},{"s":"A5","x":128,"y":0.66},{"s":"A5","x":130,"y":0.65},{"s":"A5","x":133,"y":0.64},{"s":"A5","x":135,"y":0.65},{"s":"A5","x":138,"y":0.64},{"s":"A5","x":140,"y":0.65},{"s":"A5","x":143,"y":0.64},{"s":"A5","x":145,"y":0.65},{"s":"A5","x":148,"y":0.64},{"s":"A5","x":150,"y":0.66},
{"s":"A6","x":1,"y":0.57},{"s":"A6","x":2,"y":0.52},{"s":"A6","x":3,"y":0.54},{"s":"A6","x":5,"y":0.51},{"s":"A6","x":7,"y":0.50},{"s":"A6","x":9,"y":0.54},{"s":"A6","x":11,"y":0.52},{"s":"A6","x":13,"y":0.55},{"s":"A6","x":15,"y":0.57},{"s":"A6","x":17,"y":0.49},{"s":"A6","x":19,"y":0.55},{"s":"A6","x":21,"y":0.59},{"s":"A6","x":23,"y":0.54},{"s":"A6","x":25,"y":0.53},{"s":"A6","x":28,"y":0.52},{"s":"A6","x":30,"y":0.52},{"s":"A6","x":33,"y":0.54},{"s":"A6","x":35,"y":0.55},{"s":"A6","x":38,"y":0.55},{"s":"A6","x":40,"y":0.56},{"s":"A6","x":42,"y":0.55},{"s":"A6","x":45,"y":0.56},{"s":"A6","x":48,"y":0.55},{"s":"A6","x":50,"y":0.56},{"s":"A6","x":52,"y":0.58},{"s":"A6","x":55,"y":0.57},{"s":"A6","x":58,"y":0.58},{"s":"A6","x":60,"y":0.57},{"s":"A6","x":62,"y":0.56},{"s":"A6","x":65,"y":0.58},{"s":"A6","x":68,"y":0.59},{"s":"A6","x":70,"y":0.61},{"s":"A6","x":72,"y":0.58},{"s":"A6","x":75,"y":0.60},{"s":"A6","x":78,"y":0.57},{"s":"A6","x":80,"y":0.59},{"s":"A6","x":82,"y":0.56},{"s":"A6","x":85,"y":0.58},{"s":"A6","x":88,"y":0.57},{"s":"A6","x":90,"y":0.54},{"s":"A6","x":93,"y":0.58},{"s":"A6","x":95,"y":0.55},{"s":"A6","x":98,"y":0.57},{"s":"A6","x":100,"y":0.59},{"s":"A6","x":103,"y":0.58},{"s":"A6","x":105,"y":0.60},{"s":"A6","x":108,"y":0.57},{"s":"A6","x":110,"y":0.57},{"s":"A6","x":113,"y":0.58},{"s":"A6","x":115,"y":0.60},{"s":"A6","x":118,"y":0.57},{"s":"A6","x":120,"y":0.58},{"s":"A6","x":123,"y":0.61},{"s":"A6","x":125,"y":0.60},{"s":"A6","x":128,"y":0.64},{"s":"A6","x":130,"y":0.61},{"s":"A6","x":133,"y":0.63},{"s":"A6","x":135,"y":0.62},{"s":"A6","x":138,"y":0.64},{"s":"A6","x":140,"y":0.63},{"s":"A6","x":143,"y":0.64},{"s":"A6","x":145,"y":0.63},{"s":"A6","x":148,"y":0.64},{"s":"A6","x":150,"y":0.64}
],
"mu":[
{"s":"A1","x":1,"y":0.53},{"s":"A1","x":5,"y":0.55},{"s":"A1","x":10,"y":0.57},{"s":"A1","x":15,"y":0.56},{"s":"A1","x":20,"y":0.57},{"s":"A1","x":25,"y":0.58},{"s":"A1","x":28,"y":0.60},{"s":"A1","x":30,"y":0.58},{"s":"A1","x":32,"y":0.57},{"s":"A1","x":35,"y":0.56},{"s":"A1","x":38,"y":0.58},{"s":"A1","x":40,"y":0.57},{"s":"A1","x":43,"y":0.59},{"s":"A1","x":45,"y":0.60},{"s":"A1","x":48,"y":0.59},{"s":"A1","x":50,"y":0.61},{"s":"A1","x":53,"y":0.62},{"s":"A1","x":55,"y":0.60},{"s":"A1","x":58,"y":0.62},{"s":"A1","x":60,"y":0.63},{"s":"A1","x":63,"y":0.65},{"s":"A1","x":65,"y":0.64},{"s":"A1","x":68,"y":0.65},{"s":"A1","x":70,"y":0.64},{"s":"A1","x":73,"y":0.66},{"s":"A1","x":75,"y":0.65},{"s":"A1","x":78,"y":0.64},{"s":"A1","x":80,"y":0.63},{"s":"A1","x":83,"y":0.65},{"s":"A1","x":85,"y":0.66},{"s":"A1","x":88,"y":0.64},{"s":"A1","x":90,"y":0.65},{"s":"A1","x":93,"y":0.63},{"s":"A1","x":95,"y":0.64},{"s":"A1","x":98,"y":0.66},{"s":"A1","x":100,"y":0.65},{"s":"A1","x":103,"y":0.67},{"s":"A1","x":105,"y":0.66},{"s":"A1","x":108,"y":0.65},{"s":"A1","x":110,"y":0.67},{"s":"A1","x":113,"y":0.65},{"s":"A1","x":115,"y":0.66},{"s":"A1","x":118,"y":0.68},{"s":"A1","x":120,"y":0.67},{"s":"A1","x":123,"y":0.66},{"s":"A1","x":125,"y":0.67},{"s":"A1","x":128,"y":0.65},{"s":"A1","x":130,"y":0.66},{"s":"A1","x":133,"y":0.67},{"s":"A1","x":135,"y":0.68},{"s":"A1","x":138,"y":0.67},{"s":"A1","x":140,"y":0.69},{"s":"A1","x":143,"y":0.70},{"s":"A1","x":145,"y":0.71},{"s":"A1","x":148,"y":0.72},{"s":"A1","x":150,"y":0.71},
{"s":"A2","x":1,"y":0.53},{"s":"A2","x":3,"y":0.55},{"s":"A2","x":5,"y":0.57},{"s":"A2","x":7,"y":0.60},{"s":"A2","x":9,"y":0.61},{"s":"A2","x":11,"y":0.59},{"s":"A2","x":13,"y":0.60},{"s":"A2","x":15,"y":0.61},{"s":"A2","x":17,"y":0.59},{"s":"A2","x":19,"y":0.60},{"s":"A2","x":21,"y":0.57},{"s":"A2","x":23,"y":0.59},{"s":"A2","x":25,"y":0.60},{"s":"A2","x":28,"y":0.61},{"s":"A2","x":30,"y":0.62},{"s":"A2","x":32,"y":0.60},{"s":"A2","x":35,"y":0.61},{"s":"A2","x":38,"y":0.63},{"s":"A2","x":40,"y":0.62},{"s":"A2","x":43,"y":0.64},{"s":"A2","x":45,"y":0.65},{"s":"A2","x":47,"y":0.67},{"s":"A2","x":50,"y":0.70},{"s":"A2","x":52,"y":0.66},{"s":"A2","x":55,"y":0.68},{"s":"A2","x":58,"y":0.65},{"s":"A2","x":60,"y":0.67},{"s":"A2","x":62,"y":0.69},{"s":"A2","x":65,"y":0.66},{"s":"A2","x":68,"y":0.63},{"s":"A2","x":70,"y":0.64},{"s":"A2","x":73,"y":0.62},{"s":"A2","x":75,"y":0.63},{"s":"A2","x":78,"y":0.61},{"s":"A2","x":80,"y":0.60},{"s":"A2","x":82,"y":0.59},{"s":"A2","x":85,"y":0.62},{"s":"A2","x":88,"y":0.63},{"s":"A2","x":90,"y":0.61},{"s":"A2","x":93,"y":0.60},{"s":"A2","x":95,"y":0.62},{"s":"A2","x":98,"y":0.64},{"s":"A2","x":100,"y":0.63},{"s":"A2","x":103,"y":0.62},{"s":"A2","x":105,"y":0.64},{"s":"A2","x":108,"y":0.63},{"s":"A2","x":110,"y":0.64},{"s":"A2","x":113,"y":0.66},{"s":"A2","x":115,"y":0.64},{"s":"A2","x":118,"y":0.62},{"s":"A2","x":120,"y":0.65},{"s":"A2","x":123,"y":0.63},{"s":"A2","x":125,"y":0.62},{"s":"A2","x":128,"y":0.64},{"s":"A2","x":130,"y":0.66},{"s":"A2","x":133,"y":0.63},{"s":"A2","x":135,"y":0.64},{"s":"A2","x":138,"y":0.65},{"s":"A2","x":140,"y":0.66},{"s":"A2","x":143,"y":0.65},{"s":"A2","x":145,"y":0.67},{"s":"A2","x":148,"y":0.68},{"s":"A2","x":150,"y":0.69},
{"s":"A3","x":1,"y":0.53},{"s":"A3","x":5,"y":0.55},{"s":"A3","x":10,"y":0.57},{"s":"A3","x":15,"y":0.58},{"s":"A3","x":20,"y":0.58},{"s":"A3","x":25,"y":0.59},{"s":"A3","x":30,"y":0.61},{"s":"A3","x":35,"y":0.62},{"s":"A3","x":40,"y":0.64},{"s":"A3","x":45,"y":0.66},{"s":"A3","x":48,"y":0.69},{"s":"A3","x":50,"y":0.68},{"s":"A3","x":53,"y":0.67},{"s":"A3","x":55,"y":0.69},{"s":"A3","x":58,"y":0.70},{"s":"A3","x":60,"y":0.71},{"s":"A3","x":62,"y":0.72},{"s":"A3","x":65,"y":0.70},{"s":"A3","x":68,"y":0.69},{"s":"A3","x":70,"y":0.67},{"s":"A3","x":73,"y":0.66},{"s":"A3","x":75,"y":0.68},{"s":"A3","x":78,"y":0.67},{"s":"A3","x":80,"y":0.65},{"s":"A3","x":83,"y":0.66},{"s":"A3","x":85,"y":0.68},{"s":"A3","x":88,"y":0.67},{"s":"A3","x":90,"y":0.66},{"s":"A3","x":93,"y":0.64},{"s":"A3","x":95,"y":0.66},{"s":"A3","x":98,"y":0.65},{"s":"A3","x":100,"y":0.66},{"s":"A3","x":103,"y":0.64},{"s":"A3","x":105,"y":0.65},{"s":"A3","x":108,"y":0.67},{"s":"A3","x":110,"y":0.65},{"s":"A3","x":113,"y":0.64},{"s":"A3","x":115,"y":0.66},{"s":"A3","x":118,"y":0.65},{"s":"A3","x":120,"y":0.66},{"s":"A3","x":123,"y":0.67},{"s":"A3","x":125,"y":0.66},{"s":"A3","x":128,"y":0.67},{"s":"A3","x":130,"y":0.68},{"s":"A3","x":133,"y":0.67},{"s":"A3","x":135,"y":0.69},{"s":"A3","x":138,"y":0.70},{"s":"A3","x":140,"y":0.69},{"s":"A3","x":143,"y":0.71},{"s":"A3","x":145,"y":0.72},{"s":"A3","x":148,"y":0.72},{"s":"A3","x":150,"y":0.73},
{"s":"A4","x":1,"y":0.54},{"s":"A4","x":5,"y":0.56},{"s":"A4","x":10,"y":0.57},{"s":"A4","x":15,"y":0.58},{"s":"A4","x":20,"y":0.57},{"s":"A4","x":25,"y":0.58},{"s":"A4","x":28,"y":0.60},{"s":"A4","x":30,"y":0.59},{"s":"A4","x":33,"y":0.61},{"s":"A4","x":35,"y":0.60},{"s":"A4","x":38,"y":0.62},{"s":"A4","x":40,"y":0.60},{"s":"A4","x":43,"y":0.63},{"s":"A4","x":45,"y":0.62},{"s":"A4","x":48,"y":0.64},{"s":"A4","x":50,"y":0.63},{"s":"A4","x":53,"y":0.65},{"s":"A4","x":55,"y":0.64},{"s":"A4","x":58,"y":0.66},{"s":"A4","x":60,"y":0.68},{"s":"A4","x":63,"y":0.66},{"s":"A4","x":65,"y":0.67},{"s":"A4","x":68,"y":0.69},{"s":"A4","x":70,"y":0.68},{"s":"A4","x":73,"y":0.70},{"s":"A4","x":75,"y":0.69},{"s":"A4","x":78,"y":0.67},{"s":"A4","x":80,"y":0.68},{"s":"A4","x":83,"y":0.66},{"s":"A4","x":85,"y":0.68},{"s":"A4","x":88,"y":0.70},{"s":"A4","x":90,"y":0.67},{"s":"A4","x":93,"y":0.66},{"s":"A4","x":95,"y":0.68},{"s":"A4","x":98,"y":0.67},{"s":"A4","x":100,"y":0.69},{"s":"A4","x":103,"y":0.67},{"s":"A4","x":105,"y":0.68},{"s":"A4","x":108,"y":0.66},{"s":"A4","x":110,"y":0.67},{"s":"A4","x":113,"y":0.69},{"s":"A4","x":115,"y":0.68},{"s":"A4","x":118,"y":0.66},{"s":"A4","x":120,"y":0.67},{"s":"A4","x":123,"y":0.68},{"s":"A4","x":125,"y":0.66},{"s":"A4","x":128,"y":0.67},{"s":"A4","x":130,"y":0.66},{"s":"A4","x":133,"y":0.68},{"s":"A4","x":135,"y":0.67},{"s":"A4","x":138,"y":0.69},{"s":"A4","x":140,"y":0.70},{"s":"A4","x":143,"y":0.72},{"s":"A4","x":145,"y":0.71},{"s":"A4","x":148,"y":0.72},{"s":"A4","x":150,"y":0.73},
{"s":"A5","x":1,"y":0.54},{"s":"A5","x":5,"y":0.56},{"s":"A5","x":10,"y":0.57},{"s":"A5","x":15,"y":0.57},{"s":"A5","x":20,"y":0.58},{"s":"A5","x":25,"y":0.59},{"s":"A5","x":28,"y":0.58},{"s":"A5","x":30,"y":0.60},{"s":"A5","x":33,"y":0.59},{"s":"A5","x":35,"y":0.58},{"s":"A5","x":38,"y":0.60},{"s":"A5","x":40,"y":0.61},{"s":"A5","x":43,"y":0.59},{"s":"A5","x":45,"y":0.60},{"s":"A5","x":48,"y":0.61},{"s":"A5","x":50,"y":0.60},{"s":"A5","x":53,"y":0.62},{"s":"A5","x":55,"y":0.61},{"s":"A5","x":58,"y":0.64},{"s":"A5","x":60,"y":0.62},{"s":"A5","x":63,"y":0.63},{"s":"A5","x":65,"y":0.65},{"s":"A5","x":68,"y":0.63},{"s":"A5","x":70,"y":0.64},{"s":"A5","x":73,"y":0.62},{"s":"A5","x":75,"y":0.64},{"s":"A5","x":78,"y":0.66},{"s":"A5","x":80,"y":0.67},{"s":"A5","x":83,"y":0.69},{"s":"A5","x":85,"y":0.68},{"s":"A5","x":88,"y":0.67},{"s":"A5","x":90,"y":0.69},{"s":"A5","x":93,"y":0.68},{"s":"A5","x":95,"y":0.70},{"s":"A5","x":98,"y":0.69},{"s":"A5","x":100,"y":0.70},{"s":"A5","x":103,"y":0.68},{"s":"A5","x":105,"y":0.70},{"s":"A5","x":108,"y":0.69},{"s":"A5","x":110,"y":0.68},{"s":"A5","x":113,"y":0.67},{"s":"A5","x":115,"y":0.69},{"s":"A5","x":118,"y":0.68},{"s":"A5","x":120,"y":0.67},{"s":"A5","x":123,"y":0.69},{"s":"A5","x":125,"y":0.68},{"s":"A5","x":128,"y":0.67},{"s":"A5","x":130,"y":0.69},{"s":"A5","x":133,"y":0.68},{"s":"A5","x":135,"y":0.67},{"s":"A5","x":138,"y":0.69},{"s":"A5","x":140,"y":0.68},{"s":"A5","x":143,"y":0.66},{"s":"A5","x":145,"y":0.65},{"s":"A5","x":148,"y":0.67},{"s":"A5","x":150,"y":0.66},
{"s":"A6","x":1,"y":0.54},{"s":"A6","x":2,"y":0.52},{"s":"A6","x":3,"y":0.55},{"s":"A6","x":5,"y":0.56},{"s":"A6","x":7,"y":0.57},{"s":"A6","x":9,"y":0.59},{"s":"A6","x":10,"y":0.57},{"s":"A6","x":11,"y":0.55},{"s":"A6","x":12,"y":0.52},{"s":"A6","x":13,"y":0.55},{"s":"A6","x":14,"y":0.58},{"s":"A6","x":15,"y":0.52},{"s":"A6","x":16,"y":0.55},{"s":"A6","x":18,"y":0.57},{"s":"A6","x":20,"y":0.58},{"s":"A6","x":22,"y":0.57},{"s":"A6","x":25,"y":0.58},{"s":"A6","x":28,"y":0.59},{"s":"A6","x":30,"y":0.60},{"s":"A6","x":33,"y":0.62},{"s":"A6","x":35,"y":0.61},{"s":"A6","x":38,"y":0.64},{"s":"A6","x":40,"y":0.66},{"s":"A6","x":42,"y":0.68},{"s":"A6","x":44,"y":0.71},{"s":"A6","x":45,"y":0.67},{"s":"A6","x":47,"y":0.69},{"s":"A6","x":48,"y":0.66},{"s":"A6","x":50,"y":0.68},{"s":"A6","x":52,"y":0.67},{"s":"A6","x":55,"y":0.70},{"s":"A6","x":58,"y":0.66},{"s":"A6","x":60,"y":0.68},{"s":"A6","x":62,"y":0.69},{"s":"A6","x":65,"y":0.70},{"s":"A6","x":67,"y":0.69},{"s":"A6","x":70,"y":0.72},{"s":"A6","x":72,"y":0.70},{"s":"A6","x":75,"y":0.73},{"s":"A6","x":77,"y":0.76},{"s":"A6","x":78,"y":0.77},{"s":"A6","x":80,"y":0.75},{"s":"A6","x":82,"y":0.73},{"s":"A6","x":85,"y":0.72},{"s":"A6","x":87,"y":0.74},{"s":"A6","x":90,"y":0.71},{"s":"A6","x":92,"y":0.73},{"s":"A6","x":95,"y":0.71},{"s":"A6","x":97,"y":0.74},{"s":"A6","x":100,"y":0.72},{"s":"A6","x":102,"y":0.75},{"s":"A6","x":105,"y":0.71},{"s":"A6","x":107,"y":0.73},{"s":"A6","x":110,"y":0.71},{"s":"A6","x":112,"y":0.74},{"s":"A6","x":115,"y":0.70},{"s":"A6","x":117,"y":0.73},{"s":"A6","x":120,"y":0.71},{"s":"A6","x":122,"y":0.69},{"s":"A6","x":125,"y":0.72},{"s":"A6","x":127,"y":0.71},{"s":"A6","x":130,"y":0.72},{"s":"A6","x":132,"y":0.70},{"s":"A6","x":135,"y":0.72},{"s":"A6","x":137,"y":0.74},{"s":"A6","x":140,"y":0.72},{"s":"A6","x":142,"y":0.73},{"s":"A6","x":145,"y":0.72},{"s":"A6","x":147,"y":0.75},{"s":"A6","x":150,"y":0.74}
]
},
"spacing":20,
"resolve":{"scale":{"color":"independent","strokeDash":"independent"}},
"vconcat":[
{"hconcat":[
{"width":178,"height":146,"title":"Resultat (Random Sampling)","layer":[
{"data":{"name":"rr"},"mark":{"type":"line","clip":true},"encoding":{
"x":{"field":"x","type":"quantitative","scale":{"domain":[-5,156],"nice":false,"zero":false},"axis":{"title":"no. of iterations","values":[0,50,100,150],"tickCount":20}},
"y":{"field":"y","type":"quantitative","scale":{"domain":[0.087,0.4625],"nice":false,"zero":false},"axis":{"title":"accuracy","tickCount":20,"labelOverlap":false,"values":[0.1,0.15,0.2,0.25,0.3,0.35,0.4,0.45],"labelExpr":"round(datum.value*100) % 10 == 0 ? format(datum.value,'.2f') : ''"}},
"color":{"field":"s","type":"nominal","scale":{"domain":["A1","A2","A3","A4","A5","A6"],"range":["#FF00FF","#FF0000","#000000","#0000FF","#00FFFF","#000000"]},"legend":{"title":"Annotator","orient":"bottom-right","offset":0,"strokeColor":"#333","fillColor":"white","padding":4,"titleFontSize":8,"titleFontWeight":"normal","titleAnchor":"middle","labelFontSize":8,"symbolType":"stroke","symbolSize":160,"symbolStrokeWidth":1,"rowPadding":-3,"labelOffset":7,"titlePadding":2}},
"strokeDash":{"field":"s","type":"nominal","scale":{"domain":["A1","A2","A3","A4","A5","A6"],"range":[[6,2,2,2],[4,4],[1,3],[1,3,4,3],[7,3],[1,0]]},"legend":{"title":"Annotator","orient":"bottom-right","offset":0,"strokeColor":"#333","fillColor":"white","padding":4,"titleFontSize":8,"titleFontWeight":"normal","titleAnchor":"middle","labelFontSize":8,"symbolType":"stroke","symbolSize":160,"symbolStrokeWidth":1,"rowPadding":-3,"labelOffset":7,"titlePadding":2}}}},
{"data":{"values":[{"x":1,"x2":150,"y":0.36}]},"mark":{"type":"rule","color":"black","strokeWidth":1},"encoding":{"x":{"field":"x","type":"quantitative"},"x2":{"field":"x2"},"y":{"field":"y","type":"quantitative"}}}
]},
{"width":178,"height":146,"title":"Resultat (Uncertainty Sampling)","layer":[
{"data":{"name":"ru"},"mark":{"type":"line","clip":true},"encoding":{
"x":{"field":"x","type":"quantitative","scale":{"domain":[-5,156],"nice":false,"zero":false},"axis":{"title":"no. of iterations","values":[0,50,100,150],"tickCount":20}},
"y":{"field":"y","type":"quantitative","scale":{"domain":[0.087,0.4625],"nice":false,"zero":false},"axis":{"title":"accuracy","tickCount":20,"labelOverlap":false,"values":[0.1,0.15,0.2,0.25,0.3,0.35,0.4,0.45],"labelExpr":"round(datum.value*100) % 10 == 0 ? format(datum.value,'.2f') : ''"}},
"color":{"field":"s","type":"nominal","scale":{"domain":["A1","A2","A3","A4","A5","A6"],"range":["#FF00FF","#FF0000","#000000","#0000FF","#00FFFF","#000000"]},"legend":null},
"strokeDash":{"field":"s","type":"nominal","scale":{"domain":["A1","A2","A3","A4","A5","A6"],"range":[[6,2,2,2],[4,4],[1,3],[1,3,4,3],[7,3],[1,0]]},"legend":null}}},
{"data":{"values":[{"x":1,"x2":150,"y":0.36}]},"mark":{"type":"rule","color":"black","strokeWidth":1},"encoding":{"x":{"field":"x","type":"quantitative"},"x2":{"field":"x2"},"y":{"field":"y","type":"quantitative"}}}
]}
],"spacing":48,"bounds":"flush","resolve":{"scale":{"color":"independent","strokeDash":"independent"}}},
{"hconcat":[
{"width":178,"height":146,"title":"Konsequenz (Random Sampling)","layer":[
{"data":{"name":"kr"},"mark":{"type":"line","clip":true},"encoding":{
"x":{"field":"x","type":"quantitative","scale":{"domain":[-5,156],"nice":false,"zero":false},"axis":{"title":"no. of iterations","values":[0,50,100,150],"tickCount":20}},
"y":{"field":"y","type":"quantitative","scale":{"domain":[0.2846,0.736],"nice":false,"zero":false},"axis":{"title":"accuracy","tickCount":20,"labelOverlap":false,"values":[0.3,0.4,0.5,0.6,0.7],"labelExpr":"format(datum.value,'.1f')"}},
"color":{"field":"s","type":"nominal","scale":{"domain":["A1","A2","A3","A4","A5","A6"],"range":["#FF00FF","#FF0000","#000000","#0000FF","#00FFFF","#000000"]},"legend":null},
"strokeDash":{"field":"s","type":"nominal","scale":{"domain":["A1","A2","A3","A4","A5","A6"],"range":[[6,2,2,2],[4,4],[1,3],[1,3,4,3],[7,3],[1,0]]},"legend":null}}},
{"data":{"values":[{"x":1,"x2":150,"y":0.61}]},"mark":{"type":"rule","color":"black","strokeWidth":1},"encoding":{"x":{"field":"x","type":"quantitative"},"x2":{"field":"x2"},"y":{"field":"y","type":"quantitative"}}}
]},
{"width":178,"height":146,"title":"Konsequenz (Uncertainty Sampling)","layer":[
{"data":{"name":"ku"},"mark":{"type":"line","clip":true},"encoding":{
"x":{"field":"x","type":"quantitative","scale":{"domain":[-5,156],"nice":false,"zero":false},"axis":{"title":"no. of iterations","values":[0,50,100,150],"tickCount":20}},
"y":{"field":"y","type":"quantitative","scale":{"domain":[0.2846,0.736],"nice":false,"zero":false},"axis":{"title":"accuracy","tickCount":20,"labelOverlap":false,"values":[0.3,0.4,0.5,0.6,0.7],"labelExpr":"format(datum.value,'.1f')"}},
"color":{"field":"s","type":"nominal","scale":{"domain":["A1","A2","A3","A4","A5","A6"],"range":["#FF00FF","#FF0000","#000000","#0000FF","#00FFFF","#000000"]},"legend":null},
"strokeDash":{"field":"s","type":"nominal","scale":{"domain":["A1","A2","A3","A4","A5","A6"],"range":[[6,2,2,2],[4,4],[1,3],[1,3,4,3],[7,3],[1,0]]},"legend":null}}},
{"data":{"values":[{"x":1,"x2":150,"y":0.61}]},"mark":{"type":"rule","color":"black","strokeWidth":1},"encoding":{"x":{"field":"x","type":"quantitative"},"x2":{"field":"x2"},"y":{"field":"y","type":"quantitative"}}}
]}
],"spacing":48,"bounds":"flush","resolve":{"scale":{"color":"independent","strokeDash":"independent"}}},
{"hconcat":[
{"width":178,"height":146,"title":"Motiv (Random Sampling)","layer":[
{"data":{"name":"mr"},"mark":{"type":"line","clip":true},"encoding":{
"x":{"field":"x","type":"quantitative","scale":{"domain":[-5,156],"nice":false,"zero":false},"axis":{"title":"no. of iterations","values":[0,50,100,150],"tickCount":20}},
"y":{"field":"y","type":"quantitative","scale":{"domain":[0.4667,0.7925],"nice":false,"zero":false},"axis":{"title":"accuracy","tickCount":20,"labelOverlap":false,"values":[0.5,0.55,0.6,0.65,0.7,0.75],"labelExpr":"round(datum.value*100) % 10 == 0 ? format(datum.value,'.2f') : ''"}},
"color":{"field":"s","type":"nominal","scale":{"domain":["A1","A2","A3","A4","A5","A6"],"range":["#FF00FF","#FF0000","#000000","#0000FF","#00FFFF","#000000"]},"legend":null},
"strokeDash":{"field":"s","type":"nominal","scale":{"domain":["A1","A2","A3","A4","A5","A6"],"range":[[6,2,2,2],[4,4],[1,3],[1,3,4,3],[7,3],[1,0]]},"legend":null}}},
{"data":{"values":[{"x":1,"x2":150,"y":0.53}]},"mark":{"type":"rule","color":"black","strokeWidth":1},"encoding":{"x":{"field":"x","type":"quantitative"},"x2":{"field":"x2"},"y":{"field":"y","type":"quantitative"}}}
]},
{"width":178,"height":146,"title":"Motiv (Uncertainty Sampling)","layer":[
{"data":{"name":"mu"},"mark":{"type":"line","clip":true},"encoding":{
"x":{"field":"x","type":"quantitative","scale":{"domain":[-5,156],"nice":false,"zero":false},"axis":{"title":"no. of iterations","values":[0,50,100,150],"tickCount":20}},
"y":{"field":"y","type":"quantitative","scale":{"domain":[0.4667,0.7925],"nice":false,"zero":false},"axis":{"title":"accuracy","tickCount":20,"labelOverlap":false,"values":[0.5,0.55,0.6,0.65,0.7,0.75],"labelExpr":"round(datum.value*100) % 10 == 0 ? format(datum.value,'.2f') : ''"}},
"color":{"field":"s","type":"nominal","scale":{"domain":["A1","A2","A3","A4","A5","A6"],"range":["#FF00FF","#FF0000","#000000","#0000FF","#00FFFF","#000000"]},"legend":null},
"strokeDash":{"field":"s","type":"nominal","scale":{"domain":["A1","A2","A3","A4","A5","A6"],"range":[[6,2,2,2],[4,4],[1,3],[1,3,4,3],[7,3],[1,0]]},"legend":null}}},
{"data":{"values":[{"x":1,"x2":150,"y":0.53}]},"mark":{"type":"rule","color":"black","strokeWidth":1},"encoding":{"x":{"field":"x","type":"quantitative"},"x2":{"field":"x2"},"y":{"field":"y","type":"quantitative"}}}
]}
],"spacing":48,"bounds":"flush","resolve":{"scale":{"color":"independent","strokeDash":"independent"}}}
]
}
